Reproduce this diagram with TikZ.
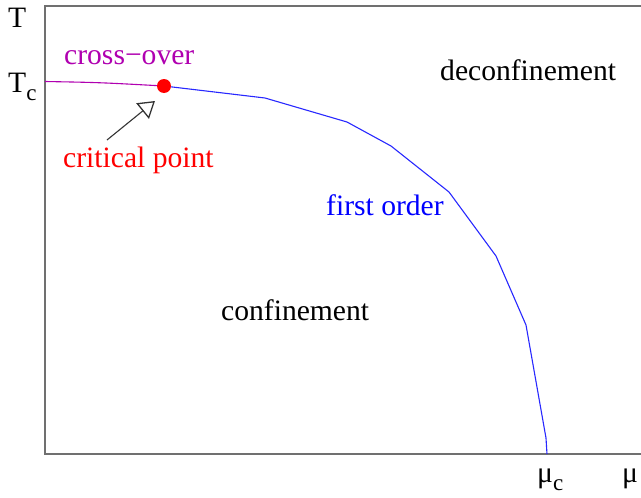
\documentclass[tikz,border=0pt]{standalone}
\usepackage{fontspec}
\setmainfont{Liberation Serif}
\newfontfamily\timesfam{Liberation Serif}
\usetikzlibrary{arrows.meta}
\definecolor{axisgray}{RGB}{112,112,112}
\definecolor{xpurple}{RGB}{176,0,176}
\definecolor{lineblue}{RGB}{40,40,255}
\newcommand{\subc}{\raisebox{-0.28em}{\fontsize{23}{23}\selectfont c}}
\begin{document}
\begin{tikzpicture}[x=1pt,y=-1pt,
  lbl/.style={anchor=base west,inner sep=0pt,font=\timesfam\fontsize{29.6}{34}\selectfont},
  axisline/.style={draw=axisgray,line width=1.8pt},
  cline/.style={line width=1.1pt}]
\useasboundingbox (0,0) rectangle (641,498);
% frame
\draw[axisline] (641,6) -- (45,6) -- (45,454) -- (641,454);
% curve
\coordinate (s) at (45,81.5);
\coordinate (cp) at (164,86);
\draw[cline,xpurple] (s) .. controls (100,82.5) .. (cp);
\draw[cline,lineblue] (cp) -- (265,98) -- (347,122) -- (391,146) -- (449,192) -- (496,256) -- (526,325) -- (546,438) -- (547,454);
\fill[red] (cp) circle (7);
% arrow
\coordinate (atail) at (107,140);
\coordinate (ahead) at (155,101);
\draw[line width=1.1pt,black!80,-{Triangle[open,length=16pt,width=20pt,line width=1.3pt]}] (atail) -- (ahead);
% labels
\node[lbl] (T) at (8,27) {T};
\node[lbl] (Tc) at (8,92) {T\subc};
\node[lbl,text=xpurple] (xo) at (64,64) {cross−over};
\node[lbl,text=red] (crit) at (63,167) {critical point};
\node[lbl] (dec) at (440,80) {deconfinement};
\node[lbl,text=blue] (fo) at (326,215) {first order};
\node[lbl] (conf) at (221,320) {confinement};
\node[lbl] (muc) at (537,482) {μ\subc};
\node[lbl] (mu) at (622,482) {μ};
\end{tikzpicture}
\end{document}
